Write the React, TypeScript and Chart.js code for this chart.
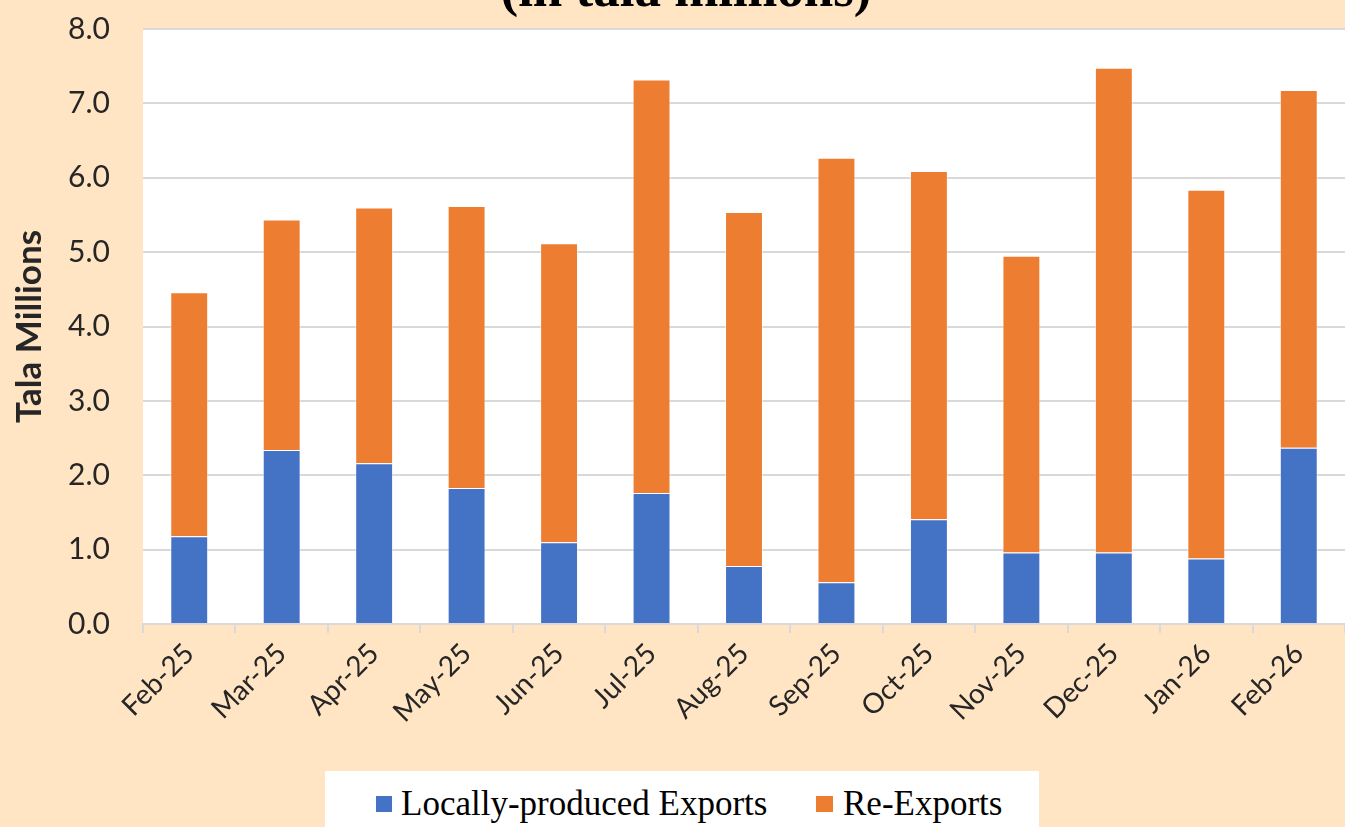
import React, { useEffect, useRef } from 'react';
import { Chart, registerables } from 'chart.js';

Chart.register(...registerables);

const categories = ['Feb-25', 'Mar-25', 'Apr-25', 'May-25', 'Jun-25', 'Jul-25', 'Aug-25', 'Sep-25', 'Oct-25', 'Nov-25', 'Dec-25', 'Jan-26', 'Feb-26'];
const localExports = [1.18, 2.34, 2.16, 1.83, 1.10, 1.76, 0.78, 0.56, 1.41, 0.96, 0.96, 0.88, 2.37];
const reExports = [3.28, 3.10, 3.44, 3.79, 4.02, 5.56, 4.76, 5.71, 4.68, 3.99, 6.52, 4.96, 4.81];
const seriesNames = ['Locally-produced Exports', 'Re-Exports'];
const seriesColors = ['#4472C4', '#ED7D31'];
const titleText = '(in tala millions)';
const yAxisTitle = 'Tala Millions';

const BG = '#FFE5C4';

export default function App() {
  const canvasRef = useRef<HTMLCanvasElement | null>(null);

  useEffect(() => {
    const canvas = canvasRef.current;
    if (!canvas) return;

    const plotBg = {
      id: 'plotBg',
      beforeDraw(chart: any) {
        const { ctx, chartArea } = chart;
        ctx.save();
        ctx.fillStyle = '#ffffff';
        ctx.fillRect(chartArea.left, chartArea.top, chartArea.right - chartArea.left, chartArea.bottom - chartArea.top);
        ctx.restore();
      },
    };

    const topTitle = {
      id: 'topTitle',
      afterDraw(chart: any) {
        const { ctx } = chart;
        ctx.save();
        ctx.font = "bold 53px 'Liberation Serif', 'Times New Roman', serif";
        ctx.fillStyle = '#000000';
        ctx.textAlign = 'center';
        ctx.textBaseline = 'alphabetic';
        ctx.fillText(titleText, 686, 6);
        ctx.restore();
      },
    };

    const chart = new Chart(canvas, {
      type: 'bar',
      data: {
        labels: categories,
        datasets: [
          {
            label: seriesNames[0],
            data: localExports,
            backgroundColor: seriesColors[0],
            borderColor: 'rgba(255,255,255,0.45)',
            borderWidth: 1,
            barPercentage: 0.41,
            categoryPercentage: 1,
          },
          {
            label: seriesNames[1],
            data: reExports,
            backgroundColor: seriesColors[1],
            borderColor: 'rgba(255,255,255,0.45)',
            borderWidth: 1,
            barPercentage: 0.41,
            categoryPercentage: 1,
          },
        ],
      },
      options: {
        responsive: false,
        animation: false,
        layout: { padding: { top: 29, left: 0, right: 0, bottom: 0 } },
        plugins: {
          legend: { display: false },
          tooltip: { enabled: false },
          title: { display: false },
        },
        scales: {
          x: {
            stacked: true,
            offset: true,
            grid: {
              display: true,
              drawOnChartArea: false,
              drawTicks: true,
              tickLength: 9,
              color: '#d9d9d9',
              lineWidth: 2,
              offset: true,
            },
            border: { display: true, color: '#d9d9d9', width: 2 },
            ticks: {
              autoSkip: false,
              maxRotation: 45,
              minRotation: 45,
              padding: 4,
              color: '#262626',
              font: { family: 'Lato', size: 28 },
            },
            afterFit: (s: any) => {
              s.height = 203;
            },
          },
          y: {
            stacked: true,
            min: 0,
            max: 8,
            ticks: {
              stepSize: 1,
              padding: 3,
              color: '#262626',
              font: { family: 'Lato', size: 30 },
              callback: (v: any) => Number(v).toFixed(1),
            },
            grid: { color: '#d9d9d9', lineWidth: 2, drawTicks: true, tickLength: 30, tickColor: 'rgba(0,0,0,0)' },
            border: { display: false },
            title: {
              display: true,
              text: yAxisTitle,
              color: '#262626',
              font: { family: 'Lato', size: 35, weight: 'bold' },
              padding: { top: 9, bottom: 0 },
            },
            afterFit: (s: any) => {
              s.width = 143;
            },
          },
        },
      },
      plugins: [plotBg, topTitle],
    });

    return () => {
      chart.destroy();
    };
  }, []);

  return (
    <div style={{ position: 'fixed', left: 0, top: 0, width: 1345, height: 827, background: BG, overflow: 'hidden' }}>
      <canvas ref={canvasRef} width={1345} height={827} style={{ display: 'block', width: 1345, height: 827 }} />
      <div
        style={{
          position: 'absolute',
          left: 325,
          top: 771,
          width: 714,
          height: 60,
          background: '#ffffff',
          fontFamily: "'Liberation Serif', 'Times New Roman', serif",
          fontSize: 35,
          color: '#000000',
        }}
      >
        <div style={{ position: 'absolute', left: 51, top: 25, width: 16, height: 16, background: seriesColors[0] }} />
        <div style={{ position: 'absolute', left: 76, top: 13, lineHeight: '40px', whiteSpace: 'nowrap' }}>{seriesNames[0]}</div>
        <div style={{ position: 'absolute', left: 491, top: 25, width: 17, height: 16, background: seriesColors[1] }} />
        <div style={{ position: 'absolute', left: 518, top: 13, lineHeight: '40px', whiteSpace: 'nowrap' }}>{seriesNames[1]}</div>
      </div>
    </div>
  );
}
